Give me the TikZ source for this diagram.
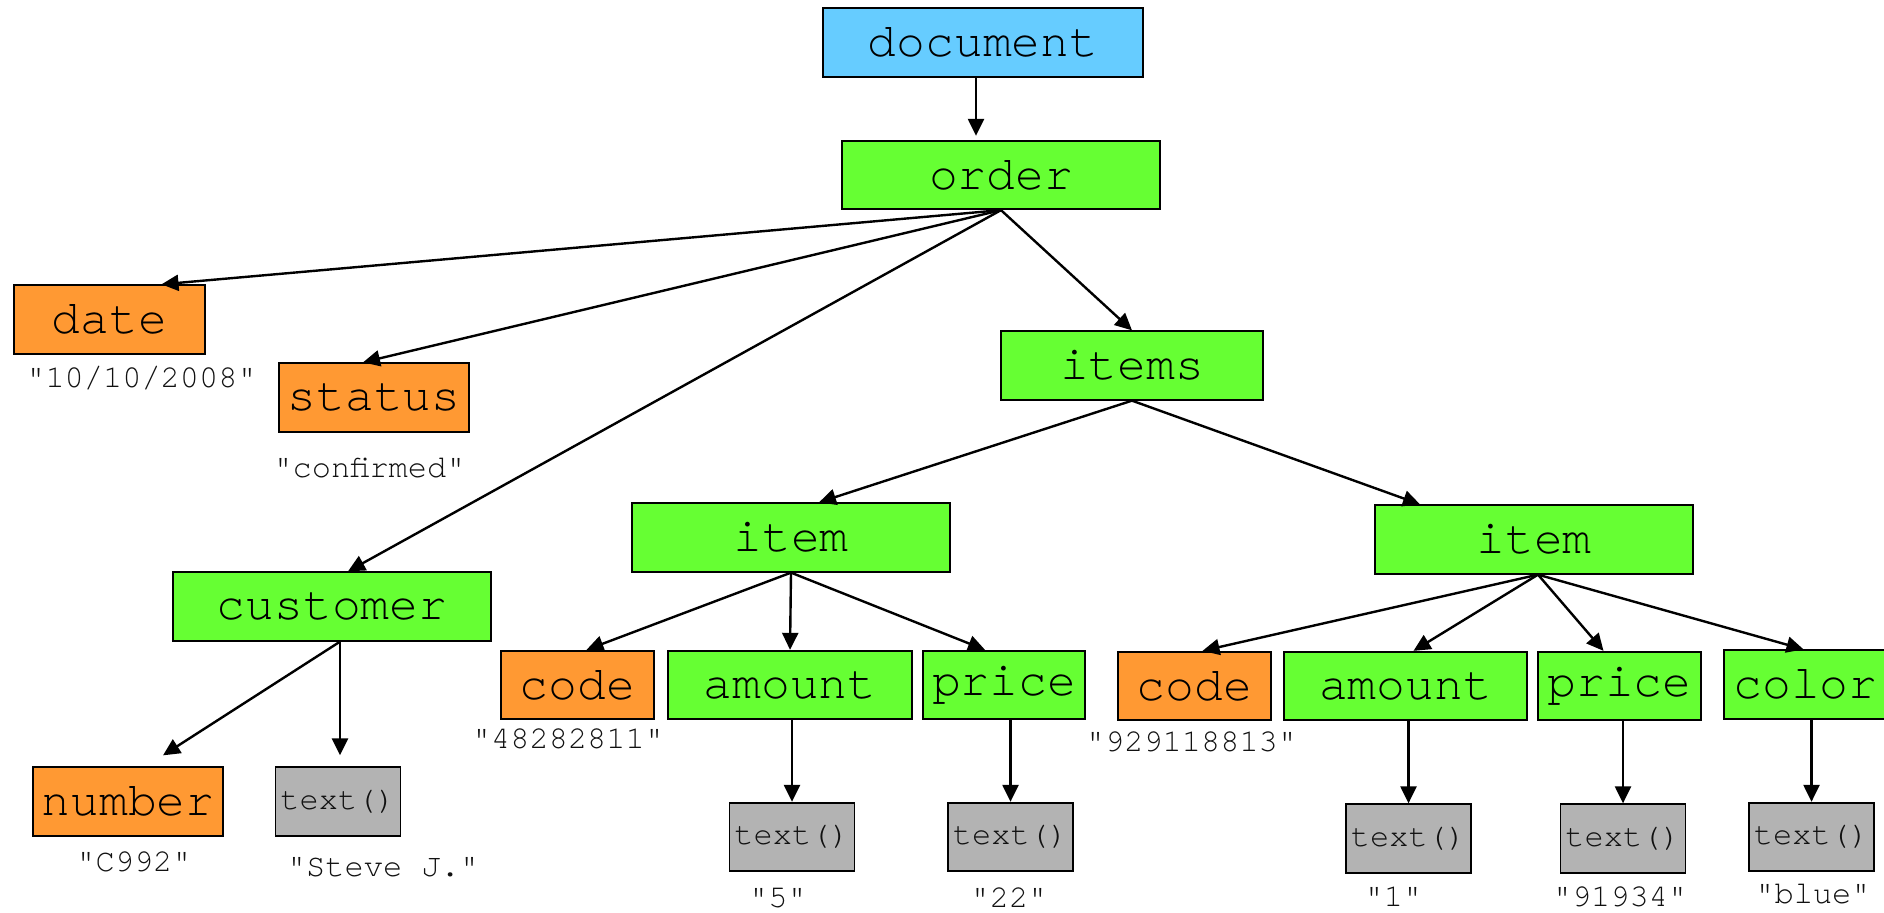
\documentclass[tikz,border=0pt]{standalone}
\usepackage{fontspec}
\setmonofont{texgyrecursor-regular.otf}
\usetikzlibrary{arrows.meta,calc}
\definecolor{docblue}{HTML}{66CCFF}
\definecolor{elgreen}{HTML}{66FF33}
\definecolor{attrorange}{HTML}{FF9933}
\definecolor{txtgray}{HTML}{B3B3B3}
\definecolor{labelcol}{HTML}{111111}
\begin{document}
\begin{tikzpicture}[x=0.5pt,y=-0.5pt,
  box/.style={draw=black, line width=0.9pt, inner sep=0pt, minimum height=34.25pt,
    font=\fontsize{24}{28}\selectfont\ttfamily},
  elem/.style={box, fill=elgreen},
  attr/.style={box, fill=attrorange},
  txt/.style={draw=black, line width=0.9pt, inner sep=0pt, fill=txtgray,
    minimum width=62.5pt, minimum height=34.25pt, text=labelcol,
    font=\fontsize{16}{19}\selectfont\ttfamily},
  val/.style={inner sep=0pt, text=labelcol, font=\fontsize{16}{19}\selectfont\ttfamily},
  conn/.style={line width=1.2pt, -{Triangle[length=8.5pt,width=8pt]}}]
\useasboundingbox (0,0) rectangle (1884,913);
\fill[white] (0,0) rectangle (1884,913);

% element / attribute boxes
\node[box, fill=docblue, minimum width=160pt] (document) at (983,42.5) {document};
\node[elem, minimum width=159pt] (order) at (1001,175) {order};
\node[attr, minimum width=95.5pt] (date) at (109.5,319.5) {date};
\node[attr, minimum width=95pt] (status) at (374,397.5) {status};
\node[elem, minimum width=131pt] (items) at (1132,365.5) {items};
\node[elem, minimum width=159pt] (customer) at (332,606.5) {customer};
\node[elem, minimum width=159pt] (item1) at (791,537.5) {item};
\node[elem, minimum width=159pt] (item2) at (1534,539.5) {item};
\node[attr, minimum width=76.5pt] (code1) at (577.5,685) {code};
\node[elem, minimum width=122pt] (amount1) at (790,685) {amount};
\node[elem, minimum width=81pt] (price1) at (1004,685) {price};
\node[attr, minimum width=76.5pt] (code2) at (1194.5,686) {code};
\node[elem, minimum width=121.5pt] (amount2) at (1405.5,686) {amount};
\node[elem, minimum width=81.5pt] (price2) at (1619.5,686) {price};
\node[elem, minimum width=81.5pt] (color) at (1805.5,684.5) {color};
\node[attr, minimum width=95pt] (number) at (128,801.5) {number};

% text() boxes
\node[txt] (tcust) at (338,801.5) {text()};
\node[txt] (ta1) at (792,837) {text()};
\node[txt] (tp1) at (1010.5,837) {text()};
\node[txt] (ta2) at (1408.5,838.5) {text()};
\node[txt] (tp2) at (1623,838.5) {text()};
\node[txt] (tcol) at (1811.5,837) {text()};

% values
\node[val] (vdate) at (141.5,378) {"10/10/2008"};
\node[val] (vstatus) at (369.5,468) {"confirmed"};
\node[val] (vnumber) at (134,862) {"C992"};
\node[val] (vcust) at (383,867) {"Steve J."};
\node[val] (vcode1) at (568,739) {"48282811"};
\node[val] (va1) at (778,898) {"5"};
\node[val] (vp1) at (1009,898) {"22"};
\node[val] (vcode2) at (1191.5,741.5) {"929118813"};
\node[val] (va2) at (1393.5,897) {"1"};
\node[val] (vp2) at (1620,897) {"91934"};
\node[val] (vcol) at (1813,894) {"blue"};

% connectors
\draw[conn] ($(document.south)+(-7,0)$) -- ($(order.north)+(-25,-4)$);
\draw[conn] (order.south) -- ($(date.north)+(52,0)$);
\draw[conn] (order.south) -- ($(status.north)+(-11,0)$);
\draw[conn] (order.south) -- ($(customer.north)+(16,0)$);
\draw[conn] (order.south) -- (items.north);
\draw[conn] (items.south) -- ($(item1.north)+(28,0)$);
\draw[conn] (items.south) -- ($(item2.north)+(-114,0)$);
\draw[conn] (item1.south) -- ($(code1.north)+(9,0)$);
\draw[conn] (item1.south) -- (amount1.north);
\draw[conn] (item1.south) -- ($(price1.north)+(-19,0)$);
\draw[conn] ($(item2.south)+(4,0)$) -- ($(code2.north)+(8,0)$);
\draw[conn] ($(item2.south)+(4,0)$) -- ($(amount2.north)+(8,0)$);
\draw[conn] ($(item2.south)+(4,0)$) -- ($(price2.north)+(-16,0)$);
\draw[conn] ($(item2.south)+(4,0)$) -- ($(color.north)+(-2,0)$);
\draw[conn] ($(customer.south)+(8,0)$) -- ($(number.north)+(35,-11)$);
\draw[conn] ($(customer.south)+(8,0)$) -- ($(tcust.north)+(2,-11)$);
\draw[conn] (ta1.north |- amount1.south) -- (ta1.north);
\draw[conn] (tp1.north |- price1.south) -- (tp1.north);
\draw[conn] (ta2.north |- amount2.south) -- (ta2.north);
\draw[conn] (tp2.north |- price2.south) -- (tp2.north);
\draw[conn] (tcol.north |- color.south) -- (tcol.north);
\end{tikzpicture}
\end{document}
